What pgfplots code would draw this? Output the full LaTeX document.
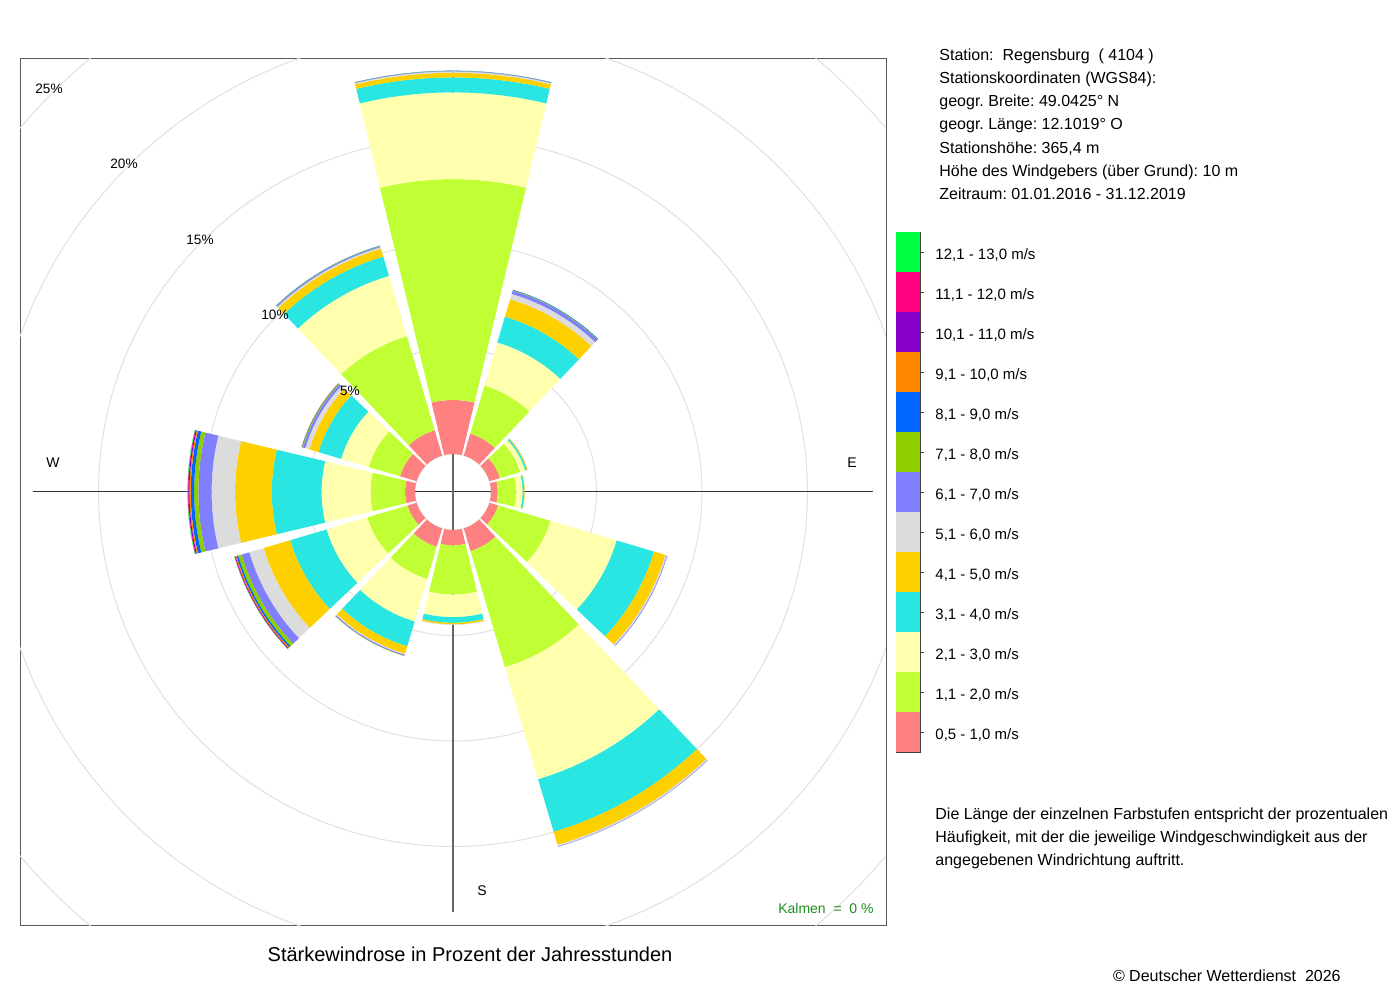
\documentclass[border=0pt]{standalone}
\usepackage{pgfplots}
\pgfplotsset{compat=1.18}
\usepackage{pgfplotstable}
\usepackage{fontspec}
\setmainfont{Liberation Sans}
\setsansfont{Liberation Sans}

\definecolor{wc1}{HTML}{FF8080}
\definecolor{wc2}{HTML}{BFFF33}
\definecolor{wc3}{HTML}{FFFFAD}
\definecolor{wc4}{HTML}{2AE6E3}
\definecolor{wc5}{HTML}{FFD000}
\definecolor{wc6}{HTML}{DCDCDC}
\definecolor{wc7}{HTML}{8080FF}
\definecolor{wc8}{HTML}{8FCF00}
\definecolor{wc9}{HTML}{0066FF}
\definecolor{wc10}{HTML}{FF8800}
\definecolor{wc11}{HTML}{8800CC}
\definecolor{wc12}{HTML}{FF0080}
\definecolor{wc13}{HTML}{00FF40}
\definecolor{kalm}{HTML}{1E8C1E}

% percentage of hours per direction (compass degrees) and speed class
\pgfplotstableread{
dir   c1   c2    c3   c4   c5   c6   c7   c8   c9   c10  c11  c12  c13
0     2.56 10.47 4.11 0.71 0.22 0.06 0.02 0.01 0.01 0    0    0    0
30    1.08 2.38  2.13 1.28 0.86 0.26 0.16 0.03 0.02 0    0    0    0
60    0.52 1.00  0.25 0.08 0.04 0.01 0    0    0    0    0    0    0
90    0.32 0.88  0.30 0.08 0.02 0    0    0    0    0    0    0    0
120   0.43 2.59  3.27 1.85 0.56 0.07 0.03 0    0    0    0    0    0
150   1.12 5.74  5.54 2.60 0.65 0.07 0.02 0    0    0    0    0    0
180   0.73 2.33  1.07 0.27 0.08 0.02 0    0    0    0    0    0    0
210   0.91 1.59  2.10 1.23 0.37 0.05 0.05 0.01 0    0    0    0    0
240   0.45 1.99  2.01 1.80 1.31 0.71 0.38 0.17 0.08 0.05 0.03 0.02 0.01
270   0.47 1.64  2.32 2.36 1.74 1.11 0.63 0.20 0.16 0.06 0.05 0.03 0.02
300   0.82 1.55  1.36 1.12 0.45 0.20 0.12 0.04 0.02 0.01 0    0    0
330   1.25 4.65  2.98 0.96 0.39 0.07 0.05 0.02 0.01 0    0    0    0
}\windtable

\def\Rzero{1.8}
\def\halfw{13.5}

\newcommand\sectorcoords[4]{%
  \gdef\coordlist{}%
  \foreach \s in {0,...,12}{%
    \pgfmathsetmacro\ang{#1-#2+#2*\s/6}%
    \xdef\coordlist{\coordlist(\ang,#4)}%
  }%
  \foreach \s in {12,11,...,0}{%
    \pgfmathsetmacro\ang{#1-#2+#2*\s/6}%
    \xdef\coordlist{\coordlist(\ang,#3)}%
  }%
}

\newcommand\fs[1]{\fontsize{#1}{1.2\dimexpr#1\relax}\selectfont}

\begin{document}
\frenchspacing
\begin{tikzpicture}
\path[use as bounding box] (0,0) rectangle (700pt,500pt);
\begin{axis}[
  at={(10pt,37.5pt)}, anchor=south west,
  width=433pt, height=433pt, scale only axis,
  xmin=-20.52, xmax=20.52, ymin=-20.52, ymax=20.52,
  xtick=\empty, ytick=\empty,
  axis line style={black!65, line width=0.5pt},
]
  \draw[black!12, line width=0.5pt] (axis cs:0,0) circle[radius=1.8];
  \draw[black!12, line width=0.5pt] (axis cs:0,0) circle[radius=6.8];
  \draw[black!12, line width=0.5pt] (axis cs:0,0) circle[radius=11.8];
  \draw[black!12, line width=0.5pt] (axis cs:0,0) circle[radius=16.8];
  \draw[black!12, line width=0.5pt] (axis cs:0,0) circle[radius=21.8];
  \draw[black!12, line width=0.5pt] (axis cs:0,0) circle[radius=26.8];
  \draw[black!80, line width=0.5pt] (axis cs:-19.9,0) -- (axis cs:19.9,0);
  \draw[black!60, line width=0.7pt] (axis cs:0,-19.9) -- (axis cs:0,19.9);
  \pgfplotsforeachungrouped \i in {0,...,11}{%
    \pgfplotstablegetelem{\i}{dir}\of\windtable
    \pgfmathsetmacro\phic{90-\pgfplotsretval}%
    \def\cum{0}%
    \pgfplotsforeachungrouped \k in {1,...,13}{%
      \pgfplotstablegetelem{\i}{[index]\k}\of\windtable
      \let\val\pgfplotsretval
      \ifdim\val pt>0pt
        \pgfmathsetmacro\rin{\Rzero+\cum}%
        \pgfmathsetmacro\cum{\cum+\val}%
        \pgfmathsetmacro\rout{\Rzero+\cum}%
        \sectorcoords{\phic}{\halfw}{\rin}{\rout}%
        \edef\temp{\noexpand\addplot[draw=none,fill=wc\k,data cs=polar] coordinates {\coordlist};}%
        \temp
      \fi
    }%
  }
\end{axis}

% colour key
\begin{axis}[
  at={(448pt,124pt)}, anchor=south west,
  width=12pt, height=260pt, scale only axis,
  xmin=0, xmax=1, ymin=0, ymax=13,
  xtick=\empty, ytick={0.5,1.5,...,12.5}, yticklabels=\empty,
  ytick pos=right, tick align=outside, major tick length=2pt,
  axis line style={black!75, line width=0.4pt},
  tick style={black!75, line width=0.4pt},
]
  \pgfplotsforeachungrouped \k in {1,...,13}{%
    \pgfmathtruncatemacro\km{\k-1}%
    \edef\temp{\noexpand\addplot[draw=none,fill=wc\k] coordinates {(0,\km) (1,\km) (1,\k) (0,\k)};}%
    \temp
  }
\end{axis}

\begin{scope}[x=0.5pt, y=-0.5pt, yshift=500pt]
  % direction and percent labels
  \node[font=\fs{7pt}] at (53,463) {W};
  \node[font=\fs{7pt}] at (852,463) {E};
  \node[font=\fs{7pt}] at (482,891) {S};
  \node[font=\fs{6.8pt}] at (350,391) {5\%};
  \node[font=\fs{6.8pt}] at (275,315) {10\%};
  \node[font=\fs{6.8pt}] at (200,240) {15\%};
  \node[font=\fs{6.8pt}] at (124,164) {20\%};
  \node[font=\fs{6.8pt}] at (49,89) {25\%};
  \node[font=\fs{7pt}, text=kalm, anchor=base east, inner sep=0pt] at (874,913) {Kalmen\ \ =\ \ 0 \%};
  % station info
  \foreach \t [count=\n from 0] in {%
    {Station:\ \ Regensburg\ \ ( 4104 )},
    {Stationskoordinaten (WGS84):},
    {geogr. Breite: 49.0425° N},
    {geogr. Länge: 12.1019° O},
    {Stationshöhe: 365,4 m},
    {Höhe des Windgebers (über Grund): 10 m},
    {Zeitraum: 01.01.2016 - 31.12.2019}}{
    \node[font=\fs{8pt}, anchor=base west, inner sep=0pt] at (939,60.7+23.1*\n) {\t};
  }
  % key labels
  \foreach \t [count=\n from 0] in {%
    {12,1 - 13,0 m/s},{11,1 - 12,0 m/s},{10,1 - 11,0 m/s},{9,1 - 10,0 m/s},
    {8,1 - 9,0 m/s},{7,1 - 8,0 m/s},{6,1 - 7,0 m/s},{5,1 - 6,0 m/s},
    {4,1 - 5,0 m/s},{3,1 - 4,0 m/s},{2,1 - 3,0 m/s},{1,1 - 2,0 m/s},{0,5 - 1,0 m/s}}{
    \node[font=\fs{7.5pt}, anchor=base west, inner sep=0pt] at (935,259.5+40*\n) {\t};
  }
  % description
  \node[font=\fs{8pt}, anchor=base west, inner sep=0pt] at (935,819.7) {Die Länge der einzelnen Farbstufen entspricht der prozentualen};
  \node[font=\fs{8pt}, anchor=base west, inner sep=0pt] at (935,842.7) {Häufigkeit, mit der die jeweilige Windgeschwindigkeit aus der};
  \node[font=\fs{8pt}, anchor=base west, inner sep=0pt] at (935,865.7) {angegebenen Windrichtung auftritt.};
  % title and copyright
  \node[font=\fs{10pt}, anchor=base, inner sep=0pt] at (470,961.2) {Stärkewindrose in Prozent der Jahresstunden};
  \node[font=\fs{8pt}, anchor=base east, inner sep=0pt] at (1341,981.7) {© Deutscher Wetterdienst\ \ 2026};
\end{scope}
\end{tikzpicture}
\end{document}
